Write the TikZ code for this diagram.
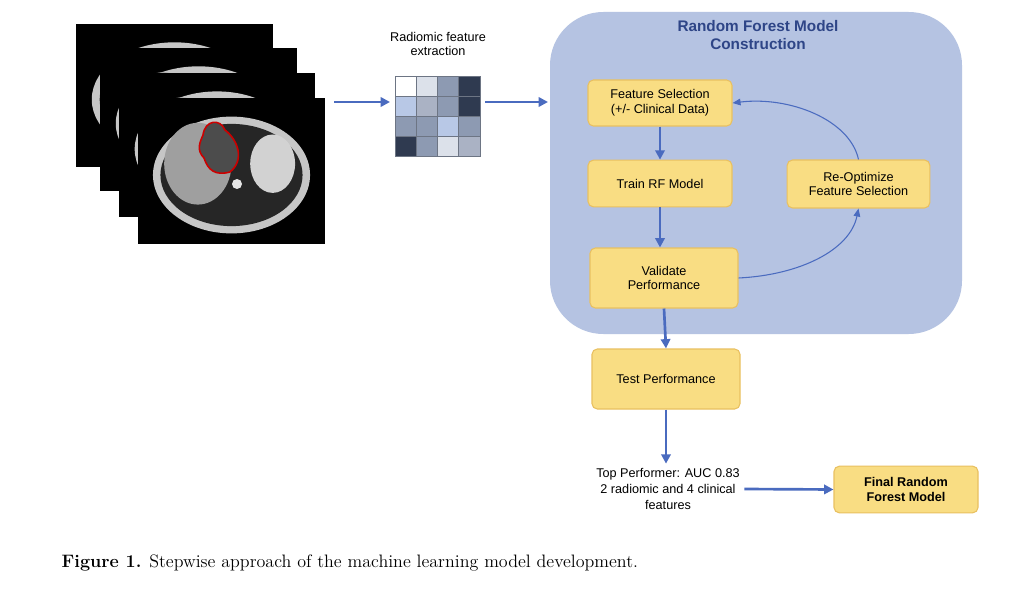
\documentclass[tikz,border=0pt]{standalone}
\usepackage{fontspec}
\setmainfont{Latin Modern Roman}
\newfontfamily\sans{Liberation Sans}
\usetikzlibrary{arrows.meta}
\definecolor{bigbox}{HTML}{B5C3E2}
\definecolor{ybox}{HTML}{F9DD83}
\definecolor{yedge}{HTML}{E9C060}
\definecolor{arr}{HTML}{4A6BBF}
\definecolor{ttl}{HTML}{2E4587}
\definecolor{cA}{HTML}{2F3A50}
\definecolor{cB}{HTML}{8D9AB2}
\definecolor{cC}{HTML}{B8C8E6}
\definecolor{cD}{HTML}{AAB2C4}
\definecolor{cE}{HTML}{DCE1EA}
\tikzset{
  yb/.style={draw=yedge,fill=ybox,rounded corners=4pt,line width=0.8pt,align=center,font=\sans\fontsize{9.5}{11}\selectfont,inner sep=0pt},
  ar/.style={draw=arr,line width=2pt,-{Triangle[length=7pt,width=7pt]}},
  car/.style={draw=arr,line width=0.8pt,-{Triangle[length=6pt,width=5pt]}},
  frame/.style={fill=black},
}
\begin{document}
\begin{tikzpicture}[x=0.75pt,y=-0.75pt]
\useasboundingbox (0,0) rectangle (1028,599);
\fill[white] (0,0) rectangle (1028,599);
% MRI stack
\foreach \x/\y/\w/\h in {76/24/197/143,100/48/197/143,119/73/196/144,138/98/187/146}{
  \fill[black] (\x,\y) rectangle ++(\w,\h);
  \fill[gray!45] (\x+\w/2,\y+\h/2+4) ellipse ({\w*0.42} and {\h*0.4});
  \fill[black!85] (\x+\w/2,\y+\h/2+4) ellipse ({\w*0.38} and {\h*0.35});
  \fill[gray!75] (\x+\w*0.32,\y+\h*0.45) ellipse ({\w*0.18} and {\h*0.28});
  \fill[gray!35] (\x+\w*0.72,\y+\h*0.45) ellipse ({\w*0.12} and {\h*0.2});
}
\fill[white!80!gray] (237,184) circle (5);
\draw[red!80!black,line width=1.2pt,fill=black!70] (203,135) .. controls (205,120) and (220,118) .. (225,130) .. controls (238,140) and (245,160) .. (230,172) .. controls (215,176) and (208,170) .. (204,158) .. controls (196,150) and (200,142) .. (203,135) -- cycle;
% matrix
\node[font=\sans\fontsize{9.5}{11}\selectfont,align=center] (rfe) at (438,44) {Radiomic feature\\extraction};
\foreach \c [count=\i from 0] in {white,cE,cB,cA,cC,cD,cB,cA,cB,cB,cC,cB,cA,cB,cE,cD}{
  \pgfmathtruncatemacro\r{int(\i/4)}
  \pgfmathtruncatemacro\cc{mod(\i,4)}
  \fill[\c,draw=cA!70,line width=0.6pt] (395+\cc*21.25,76+\r*20) rectangle ++(21.25,20);
}
\coordinate (mL) at (390,102); \coordinate (mR) at (485,102);
\coordinate (sR) at (334,102); \coordinate (bL) at (548,102);
\draw[ar] (sR) -- (mL);
\draw[ar] (mR) -- (bL);
% big box
\fill[bigbox,rounded corners=40pt] (550,12) rectangle (962,334);
\node[font=\sans\bfseries\fontsize{11.5}{13.5}\selectfont,text=ttl,align=center] (title) at (758,35) {Random Forest Model\\Construction};
% boxes
\node[yb,minimum width=108pt,minimum height=34.5pt] (fs) at (660,103) {Feature Selection\\(+/- Clinical Data)};
\node[yb,minimum width=108pt,minimum height=35pt] (tr) at (660,183.5) {Train RF Model};
\node[yb,minimum width=111pt,minimum height=45pt] (va) at (664,278) {Validate\\Performance};
\node[yb,minimum width=107pt,minimum height=36pt] (ro) at (858.5,184) {Re-Optimize\\Feature Selection};
\node[yb,minimum width=111pt,minimum height=45pt] (te) at (666,379) {Test Performance};
\node[yb,minimum width=108pt,minimum height=35pt,font=\sans\bfseries\fontsize{9.5}{11}\selectfont] (fin) at (906,489.5) {Final Random\\Forest Model};
\node[font=\sans\fontsize{9.5}{12}\selectfont,align=center] (top) at (668,489) {Top Performer: AUC 0.83\\2 radiomic and 4 clinical\\features};
\draw[ar] (fs.south) -- (tr.north);
\draw[ar] (tr.south) -- (tr.south|-va.north);
\draw[ar] (va.south) -- (te.north);
\draw[ar] (te.south) -- (te.south|-top.north);
\draw[ar] (top.east) -- (fin.west);
\draw[car] (va.east) .. controls (800,275) and (850,250) .. (ro.south);
\draw[car] (ro.north) .. controls (850,120) and (790,96) .. (fs.east);
% caption
\node[anchor=west,font=\fontsize{13.5}{16}\selectfont] (cap) at (57,563) {\textbf{Figure 1.} Stepwise approach of the machine learning model development.};
\end{tikzpicture}
\end{document}
